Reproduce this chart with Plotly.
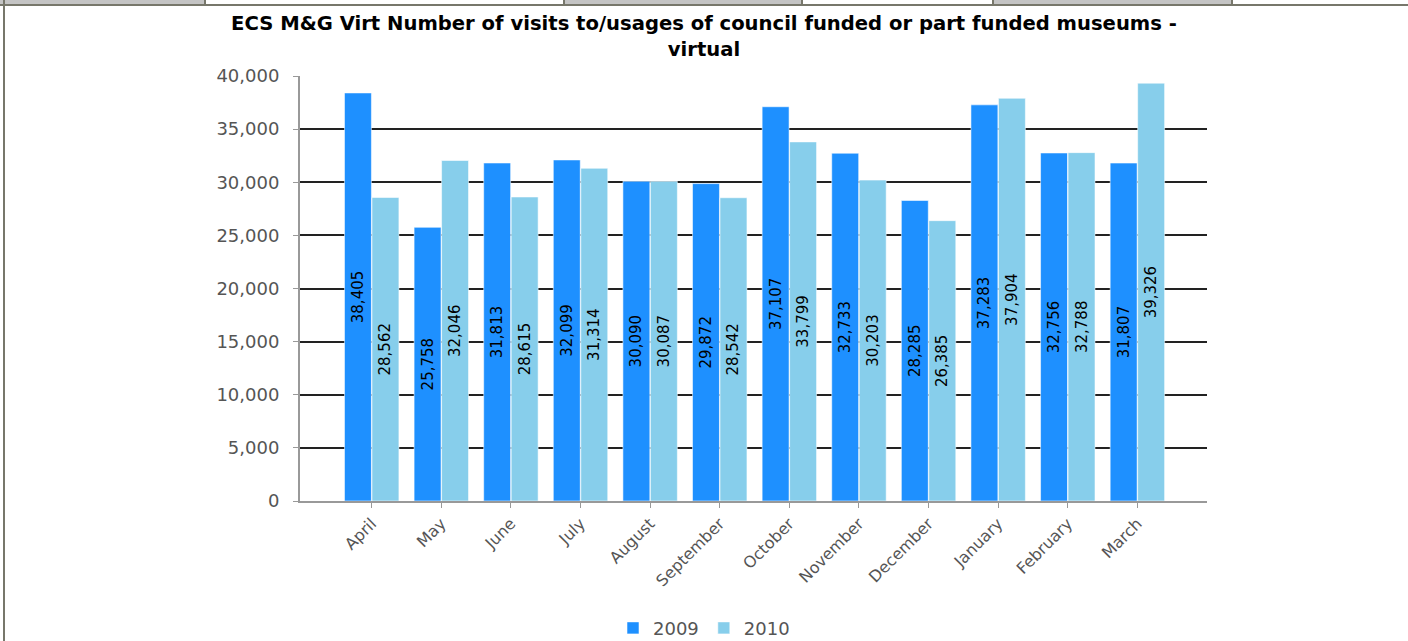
import plotly.graph_objects as go

months = ["April", "May", "June", "July", "August", "September", "October",
          "November", "December", "January", "February", "March"]
visits_2009 = [38405, 25758, 31813, 32099, 30090, 29872, 37107, 32733, 28285, 37283, 32756, 31807]
visits_2010 = [28562, 32046, 28615, 31314, 30087, 28542, 33799, 30203, 26385, 37904, 32788, 39326]
y_ticks = [0, 5000, 10000, 15000, 20000, 25000, 30000, 35000, 40000]

W, H = 1408, 641
ML, MR, MT, MB = 300, 201, 76, 140
PW, PH = W - ML - MR, H - MT - MB


def px(x):
    return (x - ML) / PW


def py(y):
    return (H - MB - y) / PH


fig = go.Figure()
for name, vals, col in [("2009", visits_2009, "#1E90FF"), ("2010", visits_2010, "#87CEEB")]:
    fig.add_trace(go.Bar(
        name=name, x=months, y=vals,
        marker=dict(color=col, line=dict(color="rgba(255,255,255,0.55)", width=1)),
        texttemplate="%{y:,}", textposition="inside", insidetextanchor="middle",
        textangle=-90, textfont=dict(family="DejaVu Sans", size=15, color="#000000"),
        hoverinfo="x+y",
    ))

# page frame around the chart
frame = "#77776b"
shapes = []
for x0, x1 in [(0, 204), (564, 802), (993, 1232)]:
    shapes.append(dict(type="rect", xref="paper", yref="paper", x0=px(x0), x1=px(x1),
                       y0=py(4), y1=py(0), fillcolor="#c4c4c4", line=dict(width=0), layer="below"))
shapes.append(dict(type="line", xref="paper", yref="paper", x0=px(0), x1=px(W),
                   y0=py(5), y1=py(5), line=dict(color=frame, width=2)))
for xs in [205, 564, 802, 993, 1232]:
    shapes.append(dict(type="line", xref="paper", yref="paper", x0=px(xs), x1=px(xs),
                       y0=py(0), y1=py(6), line=dict(color=frame, width=2)))
shapes.append(dict(type="line", xref="paper", yref="paper", x0=px(4), x1=px(4),
                   y0=py(0), y1=py(H), line=dict(color=frame, width=2)))

fig.update_layout(
    width=W, height=H,
    margin=dict(l=ML, r=MR, t=MT, b=MB),
    paper_bgcolor="white", plot_bgcolor="white",
    title=dict(text="ECS M&G Virt Number of visits to/usages of council funded or part funded museums -<br>virtual",
               x=0.5, xref="container", xanchor="center", y=0.953, yref="container", yanchor="top",
               font=dict(family="DejaVu Sans", size=19.6, color="#000000", weight="bold")),
    barmode="group", bargap=0.21, bargroupgap=0.02,
    font=dict(family="DejaVu Sans", color="#555555"),
    xaxis=dict(range=[-1.03, 12.0], showline=True, linecolor="#999999", linewidth=2,
               ticks="outside", ticklen=5, tickcolor="#999999", tickangle=-45,
               tickfont=dict(size=16, color="#555555"), showgrid=False),
    yaxis=dict(range=[0, 40000], tickvals=y_ticks, tickformat=",", showline=True,
               linecolor="#999999", linewidth=2, ticks="outside", ticklen=5, tickcolor="#999999",
               showgrid=True, gridcolor="#222222", gridwidth=2, zeroline=False,
               ticklabelstandoff=10, tickfont=dict(size=18, color="#555555")),
    legend=dict(orientation="h", xref="container", yref="container", x=0.5, xanchor="center",
                y=0.02, yanchor="middle", font=dict(size=18, color="#555555"),
                itemwidth=30, traceorder="normal"),
    shapes=shapes,
)

fig.write_html("out.html", config={"displayModeBar": False},
               post_script="document.body.style.margin='0';")
